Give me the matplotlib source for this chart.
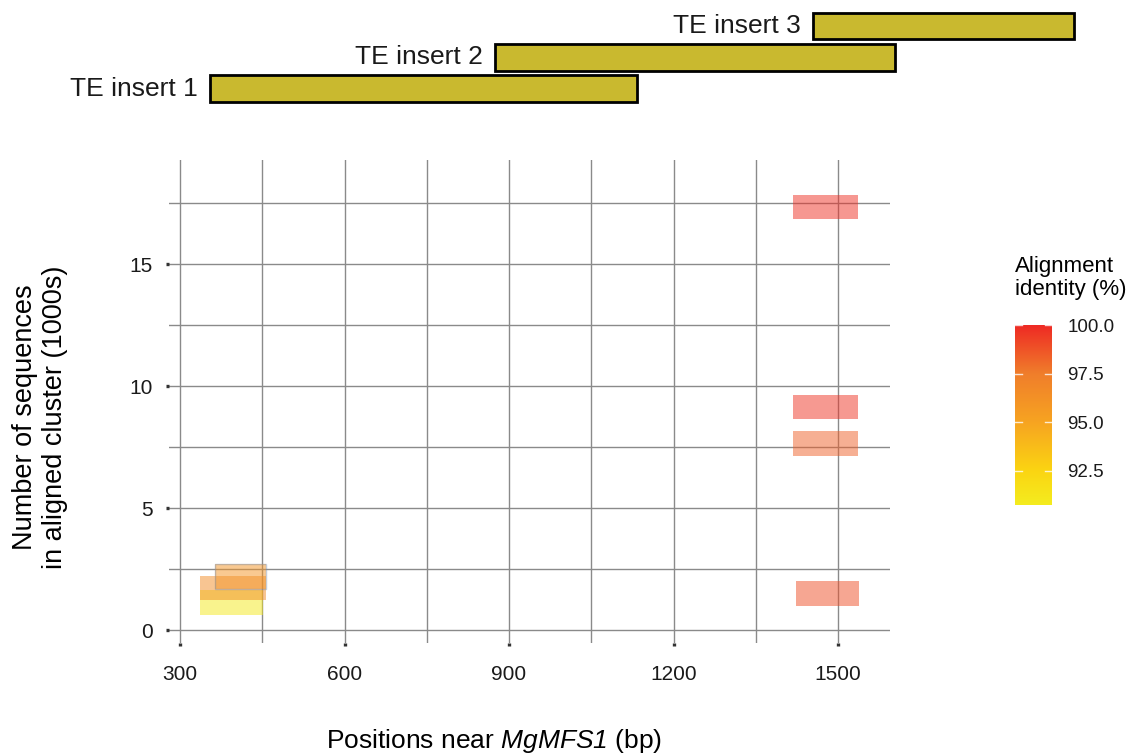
import matplotlib

matplotlib.use('Agg')
import matplotlib.pyplot as plt
import numpy as np
from matplotlib.colors import LinearSegmentedColormap, Normalize
from matplotlib.patches import Rectangle

plt.rcParams['font.family'] = ['Liberation Sans', 'DejaVu Sans']
# only the gene name uses mathtext, so make every math glyph italic (digits too)
plt.rcParams['mathtext.fontset'] = 'custom'
plt.rcParams['mathtext.it'] = 'Liberation Sans:italic'
plt.rcParams['mathtext.rm'] = 'Liberation Sans:italic'

# Tiles: x start/end (bp), y centre (1000s), identity (%)
tile_x0 = [337, 337, 364, 1418, 1418, 1418, 1423]
tile_x1 = [452, 456, 456, 1536, 1536, 1536, 1539]
tile_y = [1.13, 1.71, 2.20, 17.33, 9.13, 7.65, 1.50]
tile_identity = [91.0, 96.6, 96.0, 99.8, 99.7, 98.4, 98.9]
tile_height = 1.0

# TE inserts on top
te_labels = ['TE insert 1', 'TE insert 2', 'TE insert 3']
te_start = [355, 875, 1455]
te_end = [1133, 1604, 1930]

cbar_ticks = [92.5, 95.0, 97.5, 100.0]
x_major = [300, 600, 900, 1200, 1500]
y_major = [0, 5, 10, 15]

cmap = LinearSegmentedColormap.from_list(
    'ident', [(0.0, '#f4ec1f'), (0.19, '#fbd512'), (0.46, '#f7a421'),
              (0.73, '#f07e2b'), (1.0, '#ee2a24')])
norm = Normalize(vmin=90.75, vmax=100.0)

W, H = 1135, 756
fig = plt.figure(figsize=(W / 100, H / 100), dpi=100)

# main panel (pixel layout from reference)
px_l, px_r, px_t, px_b = 169, 890, 160, 643
ax = fig.add_axes([px_l / W, 1 - px_b / H, (px_r - px_l) / W, (px_b - px_t) / H])
sx = (838 - 180) / 1200.0
sy = (630 - 264) / 15.0
xlim = (300 - (180 - px_l) / sx, 300 + (px_r - 180) / sx)
ax.set_xlim(*xlim)
ax.set_ylim(-(px_b - 630) / sy, (630 - px_t) / sy)

ax.set_xticks(x_major)
ax.set_xticks([450, 750, 1050, 1350], minor=True)
ax.set_yticks(y_major)
ax.set_yticks([2.5, 7.5, 12.5, 17.5], minor=True)
ax.grid(True, which='both', color='#8a8a8a', linewidth=1.0)
ax.set_axisbelow(True)
for s in ax.spines.values():
    s.set_visible(False)
ax.tick_params(which='major', direction='out', length=2.5, width=2.4, color='#333333',
               labelsize=15, labelcolor='#1a1a1a')
ax.tick_params(axis='x', pad=13)
ax.tick_params(axis='y', pad=9)
ax.tick_params(which='minor', length=0)

for x0, x1, yc, v in zip(tile_x0, tile_x1, tile_y, tile_identity):
    ax.add_patch(Rectangle((x0, yc - tile_height / 2), x1 - x0, tile_height,
                           facecolor=cmap(norm(v)), alpha=0.5, edgecolor='none', zorder=3))
# faint outline on the upper left tile
ax.add_patch(Rectangle((tile_x0[2], tile_y[2] - tile_height / 2), tile_x1[2] - tile_x0[2],
                       tile_height, facecolor='none', edgecolor='#7f90a8', alpha=0.45,
                       linewidth=1.0, zorder=4))

fig.text(40 / W, 1 - 417 / H, 'Number of sequences\nin aligned cluster (1000s)',
         rotation=90, ha='center', va='center', fontsize=19.5, linespacing=1.15)
fig.text(494 / W, 1 - 741 / H, 'Positions near $MgMFS1$ (bp)',
         ha='center', va='center', fontsize=19)

# TE insert bars, same bp scale as the panel
tax = fig.add_axes([0, 1 - 113 / H, 1, 113 / H])
tax.set_xlim(300 - 180 / sx, 300 + (W - 180) / sx)
row_gap = 31.25
tax.set_ylim(1 - (113 - 88.5) / row_gap, 1 + 88.5 / row_gap)
tax.axis('off')
for i, (lab, s, e) in enumerate(zip(te_labels, te_start, te_end)):
    r = i + 1
    tax.add_patch(Rectangle((s, r - 0.43), e - s, 0.86, facecolor='#c9b92f',
                            edgecolor='black', linewidth=2))
    tax.annotate(lab, (s, r), xytext=(-9, 0), textcoords='offset points',
                 ha='right', va='center', fontsize=19, color='#1a1a1a')

# colourbar
cax = fig.add_axes([1015 / W, 1 - 505 / H, 37 / W, 180 / H])
grad = np.linspace(norm.vmin, norm.vmax, 256).reshape(-1, 1)
cax.imshow(grad, aspect='auto', cmap=cmap, norm=norm, origin='lower',
           extent=[0, 1, norm.vmin, norm.vmax])
cax.set_xticks([])
cax.yaxis.tick_right()
cax.set_yticks(cbar_ticks)
cax.set_yticklabels([f'{t:.1f}' for t in cbar_ticks])
cax.tick_params(axis='y', length=0, pad=11, labelsize=13.5, labelcolor='#1a1a1a')
for t in cbar_ticks:
    cax.plot([0, 0.2], [t, t], color='white', lw=1, alpha=0.8)
    cax.plot([0.8, 1], [t, t], color='white', lw=1, alpha=0.8)
cax.set_xlim(0, 1)
cax.set_ylim(norm.vmin, norm.vmax)
for s in cax.spines.values():
    s.set_visible(False)
fig.text(1015 / W, 1 - 256 / H, 'Alignment\nidentity (%)', ha='left', va='top',
         fontsize=16, linespacing=1.15)

fig.savefig('out.png', dpi=100)
